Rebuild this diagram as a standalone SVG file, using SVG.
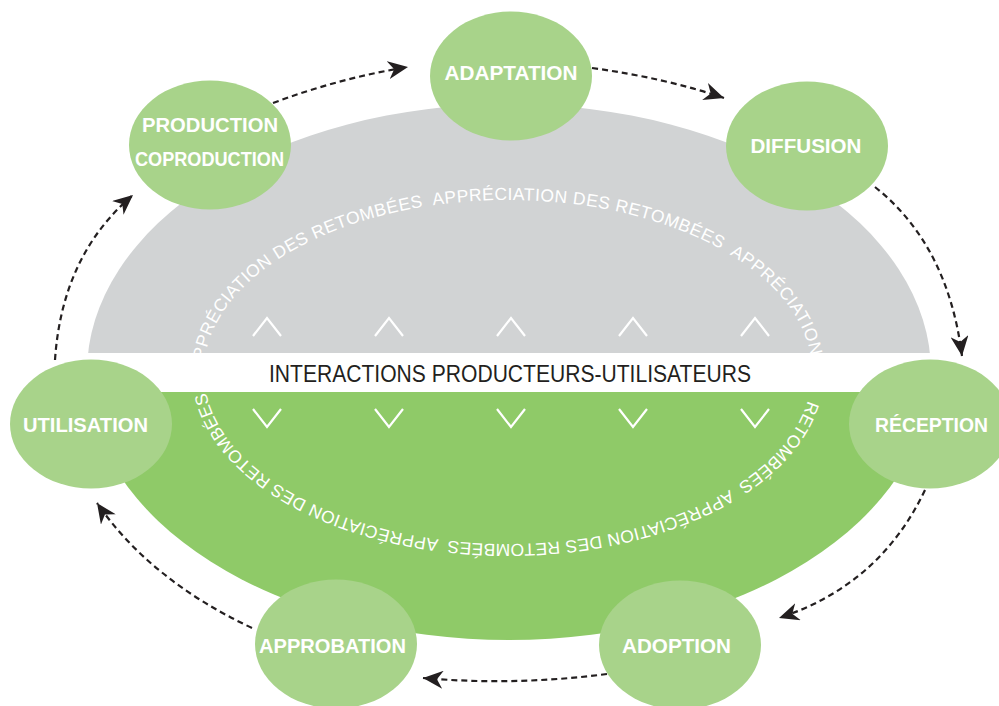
<svg xmlns="http://www.w3.org/2000/svg" width="999" height="706" viewBox="0 0 999 706">
  <defs>
    <style>
      .node ellipse { fill: #a8d38a; }
      .node text { fill: #ffffff; font-family: "Liberation Sans", Arial, sans-serif; font-weight: bold; font-size: 21px; text-anchor: middle; }
      .ring { fill: #ffffff; font-family: "Liberation Sans", Arial, sans-serif; font-size: 17.5px; white-space: pre; }
      .chev { fill: none; stroke: #ffffff; stroke-width: 2.2; }
      .link { fill: none; stroke: #231f20; stroke-width: 2.2; stroke-dasharray: 6 4; marker-end: url(#arrow); }
      .band-label { fill: #231f20; font-family: "Liberation Sans", Arial, sans-serif; font-size: 23px; text-anchor: middle; }
    </style>
    <marker id="arrow" viewBox="0 0 20 18" refX="20" refY="9" markerWidth="20" markerHeight="18" markerUnits="userSpaceOnUse" orient="auto">
      <path d="M0,0 L20,9 L0,18 L6,9 Z" fill="#231f20"/>
    </marker>
    <clipPath id="upper"><rect x="0" y="0" width="999" height="372"/></clipPath>
    <clipPath id="lower"><rect x="0" y="372" width="999" height="334"/></clipPath>
    <path id="arc-top" d="M204,372 A304,172 0 0 1 812,372"/>
    <path id="arc-bottom" d="M812,372 A304,172 0 0 1 204,372"/>
  </defs>

  <!-- central oval: grey upper half, green lower half -->
  <g id="oval">
    <ellipse cx="509" cy="372" rx="422" ry="268" fill="#d1d3d4" clip-path="url(#upper)"/>
    <ellipse cx="509" cy="372" rx="422" ry="268" fill="#8fca68" clip-path="url(#lower)"/>
  </g>

  <!-- ring of text around the oval -->
  <g id="ring-text">
    <text class="ring" xml:space="preserve" letter-spacing="0.45"><textPath href="#arc-top" startOffset="0">APPRÉCIATION DES RETOMBÉES  APPRÉCIATION DES RETOMBÉES  APPRÉCIATION</textPath></text>
    <text class="ring" xml:space="preserve" letter-spacing="0.25"><textPath href="#arc-bottom" startOffset="29">RETOMBÉES  APPRÉCIATION DES RETOMBÉES  APPRÉCIATION DES RETOMBÉES</textPath></text>
  </g>

  <!-- horizontal band -->
  <g id="band">
    <rect x="0" y="353" width="999" height="39" fill="#ffffff"/>
    <text class="band-label" x="510" y="382" textLength="482" lengthAdjust="spacingAndGlyphs">INTERACTIONS PRODUCTEURS-UTILISATEURS</text>
  </g>

  <!-- chevrons above and below the band -->
  <g id="chevrons">
    <polyline class="chev" points="253,336 267,318 281,336"/>
    <polyline class="chev" points="375,336 389,318 403,336"/>
    <polyline class="chev" points="497,336 511,318 525,336"/>
    <polyline class="chev" points="619,336 633,318 647,336"/>
    <polyline class="chev" points="741,336 755,318 769,336"/>
    <polyline class="chev" points="253,409 267,427 281,409"/>
    <polyline class="chev" points="375,409 389,427 403,409"/>
    <polyline class="chev" points="497,409 511,427 525,409"/>
    <polyline class="chev" points="619,409 633,427 647,409"/>
    <polyline class="chev" points="741,409 755,427 769,409"/>
  </g>

  <!-- cycle connectors -->
  <g id="connectors">
    <path class="link" d="M273,103 Q340,78 408,67"/>
    <path class="link" d="M592,68 Q665,78 724,98"/>
    <path class="link" d="M875,187 Q948,245 962,356"/>
    <path class="link" d="M925,490 Q880,585 779,618"/>
    <path class="link" d="M607,674 Q515,686 423,678"/>
    <path class="link" d="M252,628 Q150,580 97,503"/>
    <path class="link" d="M55,360 Q62,255 133,195"/>
  </g>

  <g id="node-production" class="node">
    <ellipse cx="210" cy="145" rx="81" ry="64.5"/>
    <text x="210" y="132" textLength="136" lengthAdjust="spacingAndGlyphs">PRODUCTION</text>
    <text x="209.5" y="166" textLength="149" lengthAdjust="spacingAndGlyphs">COPRODUCTION</text>
  </g>
  <g id="node-adaptation" class="node">
    <ellipse cx="511" cy="76" rx="81" ry="64.5"/>
    <text x="511" y="80" textLength="133" lengthAdjust="spacingAndGlyphs">ADAPTATION</text>
  </g>
  <g id="node-diffusion" class="node">
    <ellipse cx="807" cy="146" rx="81" ry="64.5"/>
    <text x="806" y="153" textLength="111" lengthAdjust="spacingAndGlyphs">DIFFUSION</text>
  </g>
  <g id="node-reception" class="node">
    <ellipse cx="930" cy="424" rx="81" ry="64.5"/>
    <text x="931.5" y="432" textLength="113" lengthAdjust="spacingAndGlyphs">RÉCEPTION</text>
  </g>
  <g id="node-adoption" class="node">
    <ellipse cx="680" cy="645" rx="81" ry="64.5"/>
    <text x="676.5" y="653" textLength="109" lengthAdjust="spacingAndGlyphs">ADOPTION</text>
  </g>
  <g id="node-approbation" class="node">
    <ellipse cx="336" cy="644" rx="81" ry="64.5"/>
    <text x="332.5" y="653" textLength="147" lengthAdjust="spacingAndGlyphs">APPROBATION</text>
  </g>
  <g id="node-utilisation" class="node">
    <ellipse cx="91" cy="424" rx="81" ry="64.5"/>
    <text x="85.5" y="432" textLength="125" lengthAdjust="spacingAndGlyphs">UTILISATION</text>
  </g>
</svg>
